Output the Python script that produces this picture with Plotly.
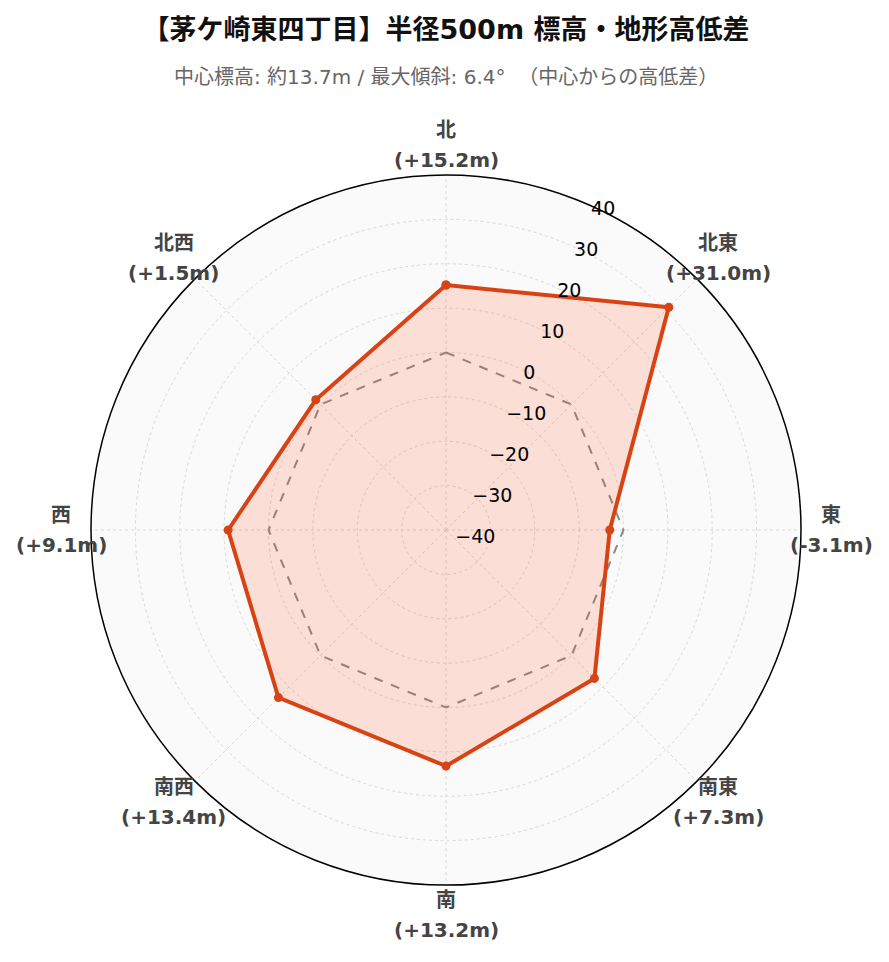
import math
import plotly.graph_objects as go

directions = ["北", "北東", "東", "南東", "南", "南西", "西", "北西"]
angles = [0, 45, 90, 135, 180, 225, 270, 315]
diffs = [15.2, 31.0, -3.1, 7.3, 13.2, 13.4, 9.1, 1.5]
baseline = [0, 0, 0, 0, 0, 0, 0, 0]

FONT = "DejaVu Sans, Noto Sans CJK JP"
PLOT_PX = 710          # polar domain size in px
LABEL_GAP_PX = 30      # direction labels sit this far outside the rim

fig = go.Figure()
fig.add_trace(go.Scatterpolar(
    r=baseline + [baseline[0]], theta=angles + [angles[0]],
    mode="lines", line=dict(color="#888888", width=2, dash="dash"),
    hoverinfo="skip", showlegend=False))
fig.add_trace(go.Scatterpolar(
    r=diffs + [diffs[0]], theta=angles + [angles[0]],
    mode="lines+markers", fill="toself",
    fillcolor="rgba(255,87,34,0.17)",
    line=dict(color="#d84315", width=4),
    marker=dict(size=9, color="#d84315"),
    showlegend=False))

annotations = []
rad = 0.5 + LABEL_GAP_PX / PLOT_PX
for d, a, v in zip(directions, angles, diffs):
    t = math.radians(a)
    x = 0.5 + rad * math.sin(t)
    y = 0.5 + rad * math.cos(t)
    for txt, shift in ((f"<b>{d}</b>", 15), (f"<b>({v:+.1f}m)</b>", -15)):
        annotations.append(dict(
            text=txt, x=x, y=y, xref="paper", yref="paper",
            xanchor="center", yanchor="middle", yshift=shift,
            showarrow=False, font=dict(family=FONT, size=20, color="#444")))

annotations.append(dict(
    text="中心標高: 約13.7m / 最大傾斜: 6.4°  （中心からの高低差）",
    x=0.5, y=1.138, xref="paper", yref="paper",
    yanchor="middle", showarrow=False,
    font=dict(family=FONT, size=20, color="#666")))

fig.update_layout(
    width=889, height=962,
    paper_bgcolor="white",
    margin=dict(l=83, r=96, t=167, b=85),
    font=dict(family=FONT, color="#222"),
    title=dict(text="<b>【茅ケ崎東四丁目】半径500m 標高・地形高低差</b>",
               x=0.5, xref="paper", xanchor="center", y=0.978, yanchor="middle",
               font=dict(family=FONT, size=27, color="#111")),
    annotations=annotations,
    polar=dict(
        domain=dict(x=[0, 1], y=[0, 1]),
        bgcolor="#fafafa",
        angularaxis=dict(
            direction="clockwise", rotation=90,
            tickmode="array", tickvals=angles, showticklabels=False,
            showline=True, linecolor="black", linewidth=1.5,
            gridcolor="#d8d8d8", griddash="dot", ticks=""),
        radialaxis=dict(
            range=[-40, 40], angle=67.5, tickangle=67.5,
            dtick=10, showline=False, ticks="",
            tickfont=dict(family=FONT, size=19, color="black"),
            gridcolor="#d8d8d8", griddash="dot"),
    ),
)

try:
    fig.update_layout(polar_radialaxis_ticklabelstandoff=-11,
                      polar_radialaxis_ticklabelshift=11)
except Exception:
    pass

fig.write_html("out.html")
